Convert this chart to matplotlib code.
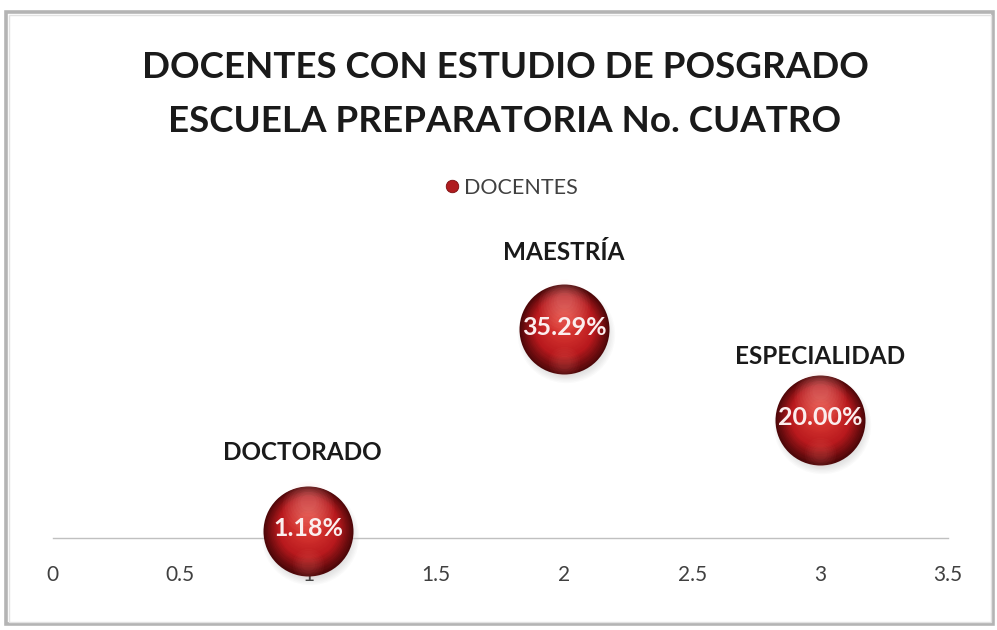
import numpy as np
import matplotlib
matplotlib.use("Agg")
import matplotlib.pyplot as plt
from matplotlib.patches import Rectangle
from matplotlib.lines import Line2D
from matplotlib.transforms import offset_copy
from matplotlib.colors import to_rgb

# ---- data ----
categories = ["DOCTORADO", "MAESTRÍA", "ESPECIALIDAD"]
x_values = [1, 2, 3]
percentages = [1.18, 35.29, 20.00]
pct_labels = ["1.18%", "35.29%", "20.00%"]
series_name = "DOCENTES"
xticks = [0, 0.5, 1, 1.5, 2, 2.5, 3, 3.5]
xtick_labels = ["0", "0.5", "1", "1.5", "2", "2.5", "3", "3.5"]
title_lines = ["DOCENTES CON ESTUDIO DE POSGRADO", "ESCUELA PREPARATORIA No. CUATRO"]

W, H = 997, 630
fig = plt.figure(figsize=(W / 100, H / 100), dpi=100)
fig.patch.set_facecolor("white")

# outer frame
fig.patches.append(Rectangle((6 / W, 1 - 624 / H), (993 - 6) / W, (624 - 12) / H,
                             transform=fig.transFigure, fill=False,
                             edgecolor="#b4b4b4", linewidth=2.6, zorder=0))
fig.patches.append(Rectangle((8.5 / W, 1 - 621.5 / H), (990.5 - 8.5) / W, (621.5 - 14.5) / H,
                             transform=fig.transFigure, fill=False,
                             edgecolor="#e2e2e2", linewidth=1.0, zorder=0))

ax_left, ax_right = 52.5, 948.0
ax_bottom_px, ax_top_px = 537.5, 242.5
ax = fig.add_axes([ax_left / W, 1 - ax_bottom_px / H,
                   (ax_right - ax_left) / W, (ax_bottom_px - ax_top_px) / H])
ax.set_xlim(0, 3.5)
ax.set_ylim(0, 50)
ax.patch.set_alpha(0)
for s in ["top", "left", "right"]:
    ax.spines[s].set_visible(False)
ax.spines["bottom"].set_color("#c0c0c0")
ax.spines["bottom"].set_linewidth(1.0)
ax.set_yticks([])
ax.set_xticks(xticks)
ax.set_xticklabels(xtick_labels, fontsize=15, color="#404040", family="Lato")
ax.tick_params(axis="x", length=0, pad=20)

# ---- shaded bubbles ----
D = 90  # px diameter
pt = 72 / 100.0  # points per pixel
dark = np.array(to_rgb("#4e0709"))
mid = np.array(to_rgb("#b8191d"))
bright = np.array(to_rgb("#dc3a34"))

def px_off(dx, dy):
    return offset_copy(ax.transData, fig=fig, x=dx, y=dy, units="dots")

# soft shadow
for k in range(8):
    d = D * (1.08 - 0.03 * k)
    ax.scatter(x_values, percentages, s=(d * pt) ** 2, color="#7a7a7a", alpha=0.035,
               linewidths=0, transform=px_off(2, -5), zorder=2, clip_on=False)

n = 26
for i in range(n):
    t = i / (n - 1)
    d = D * (1 - 0.80 * t)
    dy = (D - d) / 2 * 0.25
    if t < 0.4:
        c = dark + (mid - dark) * (t / 0.4)
    else:
        c = mid + (bright - mid) * ((t - 0.4) / 0.6)
    ax.scatter(x_values, percentages, s=(d * pt) ** 2, color=tuple(c),
               linewidths=0, transform=px_off(0, dy), zorder=3, clip_on=False)

# top highlight
for k in range(8):
    t = k / 7
    d = D * (0.58 - 0.40 * t)
    ax.scatter(x_values, percentages, s=(d * pt) ** 2, color="#ffc8c0", alpha=0.045,
               linewidths=0, transform=px_off(0, 24 + 5 * t), zorder=4, clip_on=False)

# bottom reflection
for k in range(5):
    d = D * (0.35 - 0.05 * k)
    ax.scatter(x_values, percentages, s=(d * pt) ** 2, color="#ff8a80", alpha=0.04,
               linewidths=0, transform=px_off(0, -33), zorder=4, clip_on=False)

# value labels
for x, y, lab in zip(x_values, percentages, pct_labels):
    ax.annotate(lab, (x, y), xytext=(0, 2), textcoords="offset pixels",
                ha="center", va="center", fontsize=18, fontweight="bold",
                color="#fbeeee", family="Lato", zorder=6, annotation_clip=False)

# category labels
cat_offsets = [78, 77, 63]
for x, y, lab, off in zip(x_values, percentages, categories, cat_offsets):
    ax.annotate(lab, (x, y), xytext=(-6 if lab == "DOCTORADO" else 0, off),
                textcoords="offset pixels", ha="center", va="center",
                fontsize=17.5, fontweight="bold", color="#1a1a1a", family="Lato",
                zorder=6, annotation_clip=False)

# title
fig.text(505 / W, 1 - 68 / H, title_lines[0], ha="center", va="center",
         fontsize=26.5, fontweight="bold", color="#1a1a1a", family="Lato")
fig.text(505 / W, 1 - 122 / H, title_lines[1], ha="center", va="center",
         fontsize=26.5, fontweight="bold", color="#1a1a1a", family="Lato")

# legend
handle = Line2D([], [], linestyle="none", marker="o", markersize=9,
                markerfacecolor="#b01c1f", markeredgecolor="#7a0c0e", markeredgewidth=0.6)
leg = ax.legend([handle], [series_name], loc="center",
                bbox_to_anchor=(512 / W, 1 - 188 / H), bbox_transform=fig.transFigure,
                frameon=False, handlelength=0.6, handletextpad=0.25,
                prop={"family": "Lato", "size": 15.5})
for t in leg.get_texts():
    t.set_color("#404040")

fig.savefig("out.png", dpi=100, facecolor="white")
